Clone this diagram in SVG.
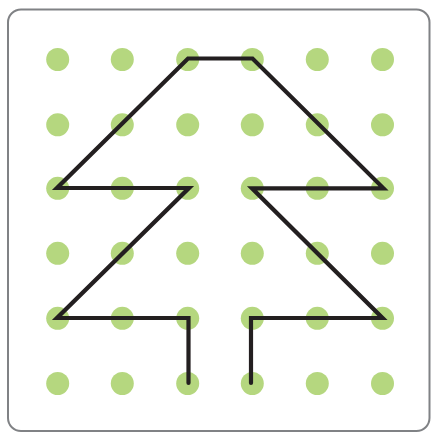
<svg xmlns="http://www.w3.org/2000/svg" width="432" height="433" viewBox="0 0 432 433">
<style>
.dot{fill:#b5d77f}
.line{fill:none;stroke:#231f20;stroke-width:4.2;stroke-linejoin:miter;stroke-linecap:round}
</style>
<rect x="0" y="0" width="432" height="433" fill="#ffffff"/>
<rect id="frame" x="8" y="9.5" width="421.5" height="421.5" rx="13" fill="#ffffff" stroke="#808285" stroke-width="2"/>
<g id="dots">
<g id="row1"><circle class="dot" cx="57.7" cy="59.5" r="11.5"/><circle class="dot" cx="122.3" cy="59.5" r="11.5"/><circle class="dot" cx="187.7" cy="59.5" r="11.5"/><circle class="dot" cx="252.3" cy="59.5" r="11.5"/><circle class="dot" cx="317.3" cy="59.5" r="11.5"/><circle class="dot" cx="382.5" cy="59.5" r="11.5"/></g>
<g id="row2"><circle class="dot" cx="57.7" cy="124.8" r="11.5"/><circle class="dot" cx="122.3" cy="124.8" r="11.5"/><circle class="dot" cx="187.7" cy="124.8" r="11.5"/><circle class="dot" cx="252.3" cy="124.8" r="11.5"/><circle class="dot" cx="317.3" cy="124.8" r="11.5"/><circle class="dot" cx="382.5" cy="124.8" r="11.5"/></g>
<g id="row3"><circle class="dot" cx="57.7" cy="188.3" r="11.5"/><circle class="dot" cx="122.3" cy="188.3" r="11.5"/><circle class="dot" cx="187.7" cy="188.3" r="11.5"/><circle class="dot" cx="252.3" cy="188.3" r="11.5"/><circle class="dot" cx="317.3" cy="188.3" r="11.5"/><circle class="dot" cx="382.5" cy="188.3" r="11.5"/></g>
<g id="row4"><circle class="dot" cx="57.7" cy="253.3" r="11.5"/><circle class="dot" cx="122.3" cy="253.3" r="11.5"/><circle class="dot" cx="187.7" cy="253.3" r="11.5"/><circle class="dot" cx="252.3" cy="253.3" r="11.5"/><circle class="dot" cx="317.3" cy="253.3" r="11.5"/><circle class="dot" cx="382.5" cy="253.3" r="11.5"/></g>
<g id="row5"><circle class="dot" cx="57.7" cy="318.3" r="11.5"/><circle class="dot" cx="122.3" cy="318.3" r="11.5"/><circle class="dot" cx="187.7" cy="318.3" r="11.5"/><circle class="dot" cx="252.3" cy="318.3" r="11.5"/><circle class="dot" cx="317.3" cy="318.3" r="11.5"/><circle class="dot" cx="382.5" cy="318.3" r="11.5"/></g>
<g id="row6"><circle class="dot" cx="57.7" cy="383.5" r="11.5"/><circle class="dot" cx="122.3" cy="383.5" r="11.5"/><circle class="dot" cx="187.7" cy="383.5" r="11.5"/><circle class="dot" cx="252.3" cy="383.5" r="11.5"/><circle class="dot" cx="317.3" cy="383.5" r="11.5"/><circle class="dot" cx="382.5" cy="383.5" r="11.5"/></g>
</g>
<g id="connectors">
<path class="line" d="M188.5,383 V318 H57 L189,188 H57 L188,58.5 H252.5 L383.5,188.3 H252 L382.5,318 H251 V383"/>
</g>
</svg>
